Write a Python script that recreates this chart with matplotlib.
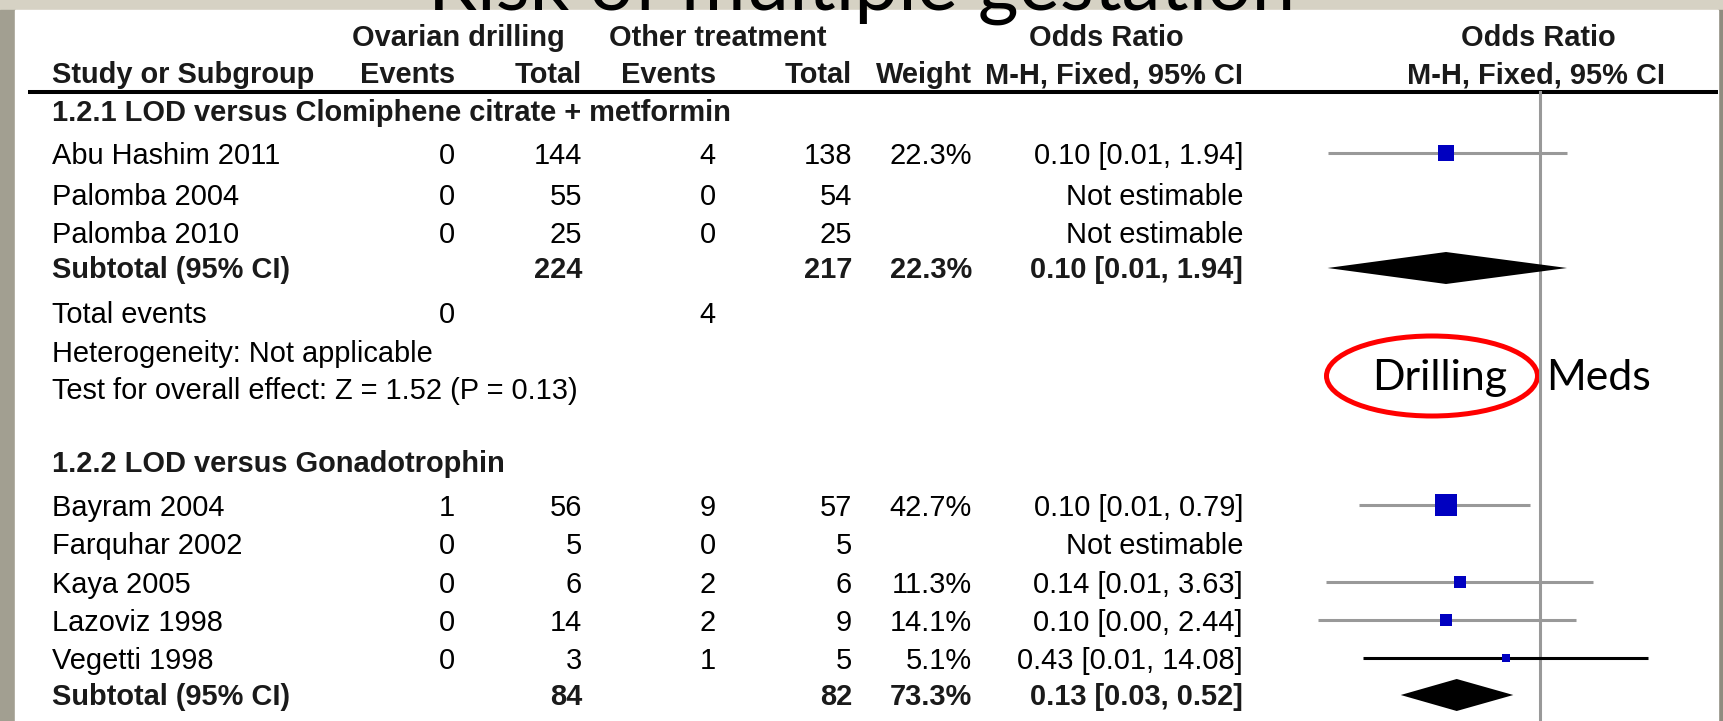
import matplotlib
matplotlib.use("Agg")
import matplotlib.pyplot as plt
from matplotlib import font_manager
from matplotlib.patches import Rectangle, Ellipse

# ---- data ----
title = "Risk of multiple gestation"

study = ["Abu Hashim 2011", "Palomba 2004", "Palomba 2010",
         "Bayram 2004", "Farquhar 2002", "Kaya 2005", "Lazoviz 1998", "Vegetti 1998"]
group = [1, 1, 1, 2, 2, 2, 2, 2]
drill_events = [0, 0, 0, 1, 0, 0, 0, 0]
drill_total = [144, 55, 25, 56, 5, 6, 14, 3]
other_events = [4, 0, 0, 9, 0, 2, 2, 1]
other_total = [138, 54, 25, 57, 5, 6, 9, 5]
weight = [22.3, None, None, 42.7, None, 11.3, 14.1, 5.1]
odds = [0.10, None, None, 0.10, None, 0.14, 0.10, 0.43]
ci_lo = [0.0055, None, None, 0.012, None, 0.0053, 0.0044, 0.013]
ci_hi = [1.94, None, None, 0.79, None, 3.63, 2.44, 14.08]
ci_text = ["0.10 [0.01, 1.94]", "Not estimable", "Not estimable",
           "0.10 [0.01, 0.79]", "Not estimable", "0.14 [0.01, 3.63]",
           "0.10 [0.00, 2.44]", "0.43 [0.01, 14.08]"]

group_names = ["1.2.1 LOD versus Clomiphene citrate + metformin",
               "1.2.2 LOD versus Gonadotrophin"]
sub_drill_total = [224, 84]
sub_other_total = [217, 82]
sub_weight = [22.3, 73.3]
sub_odds = [0.10, 0.13]
sub_lo = [0.0055, 0.033]
sub_hi = [1.94, 0.52]
sub_text = ["0.10 [0.01, 1.94]", "0.13 [0.03, 0.52]"]

g1_total_events = [0, 4]
g1_notes = ["Heterogeneity: Not applicable",
            "Test for overall effect: Z = 1.52 (P = 0.13)"]

# ---- layout (pixels of the 1723x721 picture) ----
W, H = 1723, 721
study_y = [156, 197, 235, 508, 546, 585, 623, 661]
group_y = [113, 464]
sub_y = [270, 697]
events_y, notes_y = 315, [354, 391]
col_right = {"ev1": 455, "tot1": 582, "ev2": 716, "tot2": 852, "w": 972, "ci": 1243}
x_name = 52
or_one_px, px_per_decade = 1540, 94
forest_l, forest_r = 1290, 1718

names = {f.name for f in font_manager.fontManager.ttflist}
tab_font = "Liberation Sans Narrow" if "Liberation Sans Narrow" in names else "Liberation Sans"
ttl_font = "Lato" if "Lato" in names else "DejaVu Sans"

fig = plt.figure(figsize=(W / 100, H / 100), dpi=100)
fig.patch.set_facecolor("#d6d2c4")
renderer = fig.canvas.get_renderer()


def fit(text, family, target, weight="normal"):
    t = fig.text(0, 0, text, fontsize=10, family=family, weight=weight)
    w = t.get_window_extent(renderer).width
    t.remove()
    return 10 * target / w


fs = fit("0.10 [0.01, 1.94]", tab_font, 208)
fs_title = fit(title, ttl_font, 869)
fs_note = fit("Drilling", ttl_font, 135)

bg = fig.add_axes([0, 0, 1, 1])
bg.set_xlim(0, W)
bg.set_ylim(H, 0)
bg.axis("off")
bg.add_patch(Rectangle((0, 10), 15, H - 10, color="#a29f91", zorder=0))
bg.add_patch(Rectangle((1718, 10), 5, H - 10, color="#8f8c80", zorder=0))
bg.add_patch(Rectangle((15, 10), 1703, H - 10, color="white", zorder=0))
bg.text(W / 2, 10, title, family=ttl_font, fontsize=fs_title, ha="center",
        va="baseline", color="black", zorder=5, clip_on=False)


def put(x, y, s, ha="right", bold=False):
    bg.text(x, y, s, family=tab_font, fontsize=fs, ha=ha, va="center",
            weight="bold" if bold else "normal",
            color="#1a1a1a" if bold else "black", zorder=3)


# header
for s, x in [("Ovarian drilling", 458), ("Other treatment", 718),
             ("Odds Ratio", 1106), ("Odds Ratio", 1538)]:
    put(x, 38, s, ha="center", bold=True)
put(x_name, 75, "Study or Subgroup", ha="left", bold=True)
for s, k in [("Events", "ev1"), ("Total", "tot1"), ("Events", "ev2"),
             ("Total", "tot2"), ("Weight", "w"), ("M-H, Fixed, 95% CI", "ci")]:
    put(col_right[k], 75, s, bold=True)
put(1536, 75, "M-H, Fixed, 95% CI", ha="center", bold=True)
bg.plot([28, 1718], [92, 92], color="black", lw=2.9, solid_capstyle="butt", zorder=3)

# table body
for i, name in enumerate(study):
    y = study_y[i]
    put(x_name, y, name, ha="left")
    put(col_right["ev1"], y, str(drill_events[i]))
    put(col_right["tot1"], y, str(drill_total[i]))
    put(col_right["ev2"], y, str(other_events[i]))
    put(col_right["tot2"], y, str(other_total[i]))
    if weight[i] is not None:
        put(col_right["w"], y, f"{weight[i]}%")
    put(col_right["ci"], y, ci_text[i])

for g in range(2):
    put(x_name, group_y[g], group_names[g], ha="left", bold=True)
    y = sub_y[g]
    put(x_name, y, "Subtotal (95% CI)", ha="left", bold=True)
    put(col_right["tot1"], y, str(sub_drill_total[g]), bold=True)
    put(col_right["tot2"], y, str(sub_other_total[g]), bold=True)
    put(col_right["w"], y, f"{sub_weight[g]}%", bold=True)
    put(col_right["ci"], y, sub_text[g], bold=True)

put(x_name, events_y, "Total events", ha="left")
put(col_right["ev1"], events_y, str(g1_total_events[0]))
put(col_right["ev2"], events_y, str(g1_total_events[1]))
for s, y in zip(g1_notes, notes_y):
    put(x_name, y, s, ha="left")

# forest plot on a log axis
fx = fig.add_axes([forest_l / W, 0, (forest_r - forest_l) / W, 1])
fx.set_xscale("log")
fx.set_xlim(10 ** ((forest_l - or_one_px) / px_per_decade),
            10 ** ((forest_r - or_one_px) / px_per_decade))
fx.set_ylim(H, 0)
fx.axis("off")
fx.patch.set_alpha(0)

fx.plot([1, 1], [92, H], color="#999999", lw=2.2, zorder=1)
for i in range(len(study)):
    if odds[i] is None:
        continue
    y = study_y[i] - 3
    col = "black" if ci_hi[i] > 10 else "#999999"
    fx.plot([ci_lo[i], ci_hi[i]], [y, y], color=col, lw=2.2, zorder=2,
            solid_capstyle="butt")
    fx.scatter([odds[i]], [y], marker="s", s=250 * weight[i] / 42.7,
               color="#0000c0", linewidths=0, zorder=3)
for g in range(2):
    y = sub_y[g] - 2
    fx.fill([sub_lo[g], sub_odds[g], sub_hi[g], sub_odds[g]],
            [y, y - 16, y, y + 16], color="black", lw=0, zorder=3)

# annotation
bg.text(1440, 378, "Drilling", family=ttl_font, fontsize=fs_note, ha="center",
        va="center", color="black", zorder=4)
bg.text(1546, 378, "Meds", family=ttl_font, fontsize=fs_note, ha="left",
        va="center", color="black", zorder=4)
bg.add_patch(Ellipse((1432, 376), 211, 80, fill=False, edgecolor="#ff0000",
                     lw=3.6, zorder=4))

fig.savefig("out.png", dpi=100, facecolor=fig.get_facecolor())
